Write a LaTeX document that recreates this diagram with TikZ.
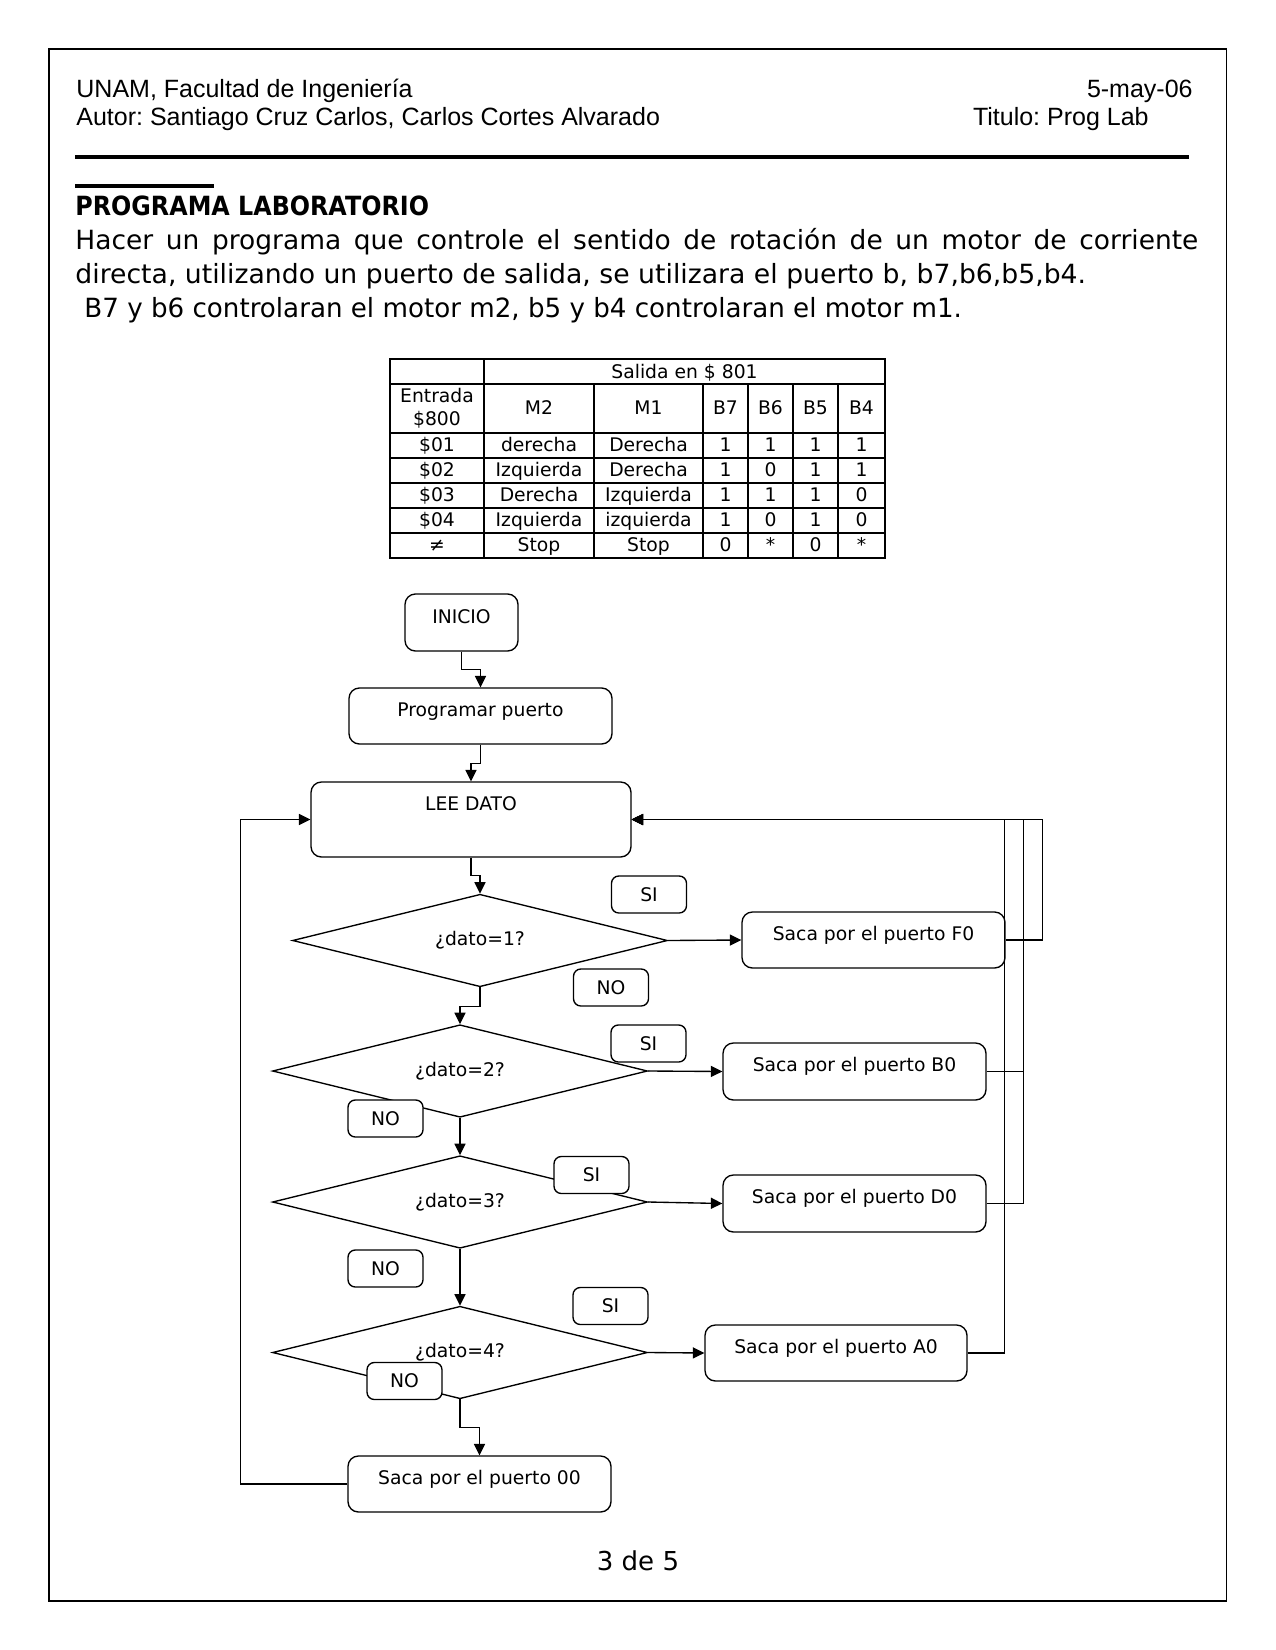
\documentclass[tikz,border=0pt]{standalone}
\usepackage{fontspec}
\setmainfont{DejaVu Sans}
\newfontfamily\arialf{Liberation Sans}
\usetikzlibrary{arrows.meta,shapes.geometric,calc}
\newcommand\myhead{\arialf\fontsize{12pt}{14pt}\selectfont}
\newcommand\mybody{\fontsize{12.7pt}{15pt}\selectfont}
\newcommand\mychart{\fontsize{9pt}{10.8pt}\selectfont}
\newcommand\mypage{\fontsize{12.5pt}{15pt}\selectfont}
\frenchspacing
\begin{document}
\begin{tikzpicture}[x=0.48pt,y=-0.48pt,
  box/.style={draw, line width=0.65pt, rounded corners=5pt, fill=white, inner sep=0},
  lbl/.style={draw, line width=0.65pt, rounded corners=3.5pt, fill=white, inner sep=0,
              minimum width=75*0.48pt, minimum height=37*0.48pt, font=\mychart},
  dec/.style={draw, diamond, aspect=4, line width=0.65pt, inner sep=0, fill=white,
              minimum width=375*0.48pt, minimum height=92.5*0.48pt, font=\mychart},
  txt/.style={inner sep=0, font=\mychart, anchor=base},
  ttxt/.style={inner sep=0, font=\mychart, anchor=base},
  arr/.style={line width=0.65pt, -{Triangle[length=5.5pt,width=5.3pt]}},
  tbl/.style={line width=0.55pt},
]
\fill[white] (0,0) rectangle (1275,1650);
\useasboundingbox (0,0) rectangle (1275,1650);

% page frame
\draw[line width=0.5pt] (49,49) rectangle (1226,1601);

% header
\node[inner sep=0, anchor=base west, font=\myhead] (h1) at (76,98) {UNAM, Facultad de Ingeniería};
\node[inner sep=0, anchor=base west, font=\myhead] (h2) at (76,126) {Autor: Santiago Cruz Carlos, Carlos Cortes Alvarado};
\node[inner sep=0, anchor=base east, font=\myhead] (h3) at (1193,98) {5-may-06};
\node[inner sep=0, anchor=base east, font=\myhead] (h4) at (1149,126) {Titulo: Prog Lab};
\draw[line width=1.6pt] (75,157) -- (1189,157);
\draw[line width=1.5pt] (75,186) -- (214,186);

% body text
\node[inner sep=0, anchor=base west, font=\mybody\bfseries] (title) at (75,216)
  {\scalebox{0.9}[1]{PROGRAMA LABORATORIO}};
\node[inner sep=0, anchor=base west, font=\mybody] (l1) at (75,250)
  {\makebox[539pt][s]{Hacer un programa que controle el sentido de rotación de un motor de corriente}};
\node[inner sep=0, anchor=base west, font=\mybody] (l2) at (75,284)
  {\scalebox{1.008}[1]{directa, utilizando un puerto de salida, se utilizara el puerto b, b7,b6,b5,b4.}};
\node[inner sep=0, anchor=base west, font=\mybody] (l3) at (84,318)
  {\scalebox{0.988}[1]{B7 y b6 controlaran el motor m2, b5 y b4 controlaran el motor m1.}};

% table
\draw[tbl] (390,359) rectangle (885,558);
\foreach \yy in {384,433,458,483,508,533} \draw[tbl] (390,\yy) -- (885,\yy);
\draw[tbl] (484,359) -- (484,558);
\foreach \xx in {594,703,748,793,838} \draw[tbl] (\xx,384) -- (\xx,558);
\node[ttxt] (tsal) at (684.5,378.5) {Salida en \$ 801};
\node[ttxt] (tent) at (437,403) {Entrada};
\node[ttxt] (tent2) at (437,425) {\$800};
\node[ttxt] (tm2) at (539,414.5) {M2};
\node[ttxt] (tm1) at (648.5,414.5) {M1};
\node[ttxt] (tb7) at (725.5,414.5) {B7};
\node[ttxt] (tb6) at (770.5,414.5) {B6};
\node[ttxt] (tb5) at (815.5,414.5) {B5};
\node[ttxt] (tb4) at (861.5,414.5) {B4};
\foreach \yy/\ca/\cb/\cc/\cd/\ce/\cf/\cg [count=\i] in
  {451.5/\$01/derecha/Derecha/1/1/1/1,
   476.5/\$02/Izquierda/Derecha/1/0/1/1,
   501.5/\$03/Derecha/Izquierda/1/1/1/0,
   526.5/\$04/Izquierda/izquierda/1/0/1/0,
   551.5/≠/Stop/Stop/0/*/0/*}{
  \node[ttxt] (r\i a) at (437,\yy) {\ca};
  \node[ttxt] (r\i b) at (539,\yy) {\cb};
  \node[ttxt] (r\i c) at (648.5,\yy) {\cc};
  \node[ttxt] (r\i d) at (725.5,\yy) {\cd};
  \node[ttxt] (r\i e) at (770.5,\yy) {\ce};
  \node[ttxt] (r\i f) at (815.5,\yy) {\cf};
  \node[ttxt] (r\i g) at (861.5,\yy) {\cg};
}

% flowchart boxes
\node[box, minimum width=113*0.48pt, minimum height=57*0.48pt] (ini) at (461.5,622.5) {};
\node[box, minimum width=263*0.48pt, minimum height=56*0.48pt] (prog) at (480.5,716) {};
\node[box, minimum width=320*0.48pt, minimum height=75*0.48pt] (lee) at (471,819.5) {};
\node[box, minimum width=263*0.48pt, minimum height=56*0.48pt] (f0) at (873.5,940) {};
\node[box, minimum width=263*0.48pt, minimum height=57*0.48pt] (b0) at (854.5,1071.5) {};
\node[box, minimum width=263*0.48pt, minimum height=57*0.48pt] (d0) at (854.5,1203.5) {};
\node[box, minimum width=262*0.48pt, minimum height=56*0.48pt] (a0) at (836,1353) {};
\node[box, minimum width=263*0.48pt, minimum height=56*0.48pt] (o0) at (479.5,1484) {};

\node[txt] (tini) at ($(ini.north)+(0,30)$) {INICIO};
\node[txt] (tprog) at ($(prog.north)+(0,29.5)$) {Programar puerto};
\node[txt] (tlee) at ($(lee.north)+(0,29.5)$) {LEE DATO};
\node[txt] (tf0) at ($(f0.north)+(0,29.5)$) {Saca por el puerto F0};
\node[txt] (tb0) at ($(b0.north)+(0,29.5)$) {Saca por el puerto B0};
\node[txt] (td0) at ($(d0.north)+(0,29.5)$) {Saca por el puerto D0};
\node[txt] (ta0) at ($(a0.north)+(0,29.5)$) {Saca por el puerto A0};
\node[txt] (to0) at ($(o0.north)+(0,29.5)$) {Saca por el puerto 00};

% decisions
\node[dec] (d1) at (480,940.5) {¿dato=1?};
\node[dec] (d2) at (460,1071) {¿dato=2?};
\node[dec] (d3) at (460,1202) {¿dato=3?};
\node[dec] (d4) at (460,1352.5) {¿dato=4?};

% connectors
\draw[arr] (ini.south) -- ++(0,18) -| (prog.north);
\draw[arr] (prog.south) -- ++(0,19) -| (lee.north);
\draw[arr] (lee.south) -- ++(0,18) -| (d1.north);
\draw[arr] (d1.south) -- ++(0,19) -| (d2.north);
\draw[arr] (d2.south) -- (d3.north);
\draw[arr] (d3.south) -- (d4.north);
\draw[arr] (d4.south) -- ++(0,28) -| (o0.north);
\draw[arr] (d1.east) -- (f0.west);
\draw[arr] (d2.east) -- (b0.west);
\draw[arr] (d3.east) -- (d0.west);
\draw[arr] (d4.east) -- (a0.west);
\draw[arr] (f0.east) -- ++(37,0) |- (lee.east);
\draw[arr] (b0.east) -- ++(37,0) |- (lee.east);
\draw[arr] (d0.east) -- ++(37,0) |- (lee.east);
\draw[arr] (a0.east) -- ++(37,0) |- (lee.east);
\draw[arr] (o0.west) -- ++(-107,0) |- (lee.west);

% SI / NO labels
\node[lbl] (si1) at (649,894.5) {SI};
\node[lbl] (no1) at (611,987.5) {NO};
\node[lbl] (si2) at (648.5,1043.5) {SI};
\node[lbl] (no2) at (385.5,1118.5) {NO};
\node[lbl] (si3) at (591.5,1175) {SI};
\node[lbl] (no3) at (385.5,1268.5) {NO};
\node[lbl] (si4) at (610.5,1306) {SI};
\node[lbl] (no4) at (404.5,1381) {NO};

% page number
\node[inner sep=0, anchor=base, font=\mypage] (pg) at (638,1570) {3 de 5};
\end{tikzpicture}
\end{document}
